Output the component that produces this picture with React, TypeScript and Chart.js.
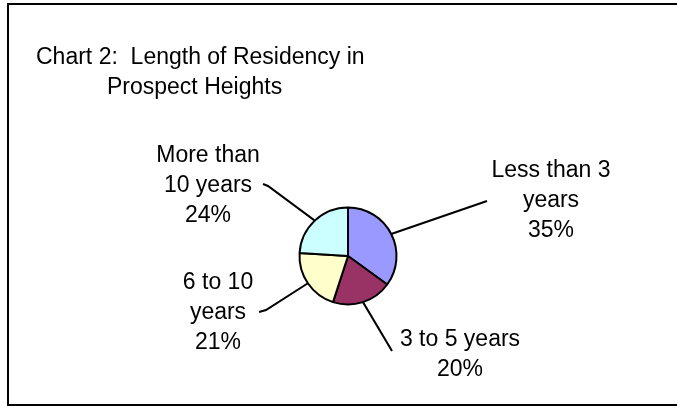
import React, { useEffect, useRef } from "react";
import { Chart, registerables } from "chart.js";

Chart.register(...registerables);

const categories = ["Less than 3 years", "3 to 5 years", "6 to 10 years", "More than 10 years"];
const percents = [35, 20, 21, 24];
const labelLines = [
  ["Less than 3", "years", "35%"],
  ["3 to 5 years", "20%"],
  ["6 to 10", "years", "21%"],
  ["More than", "10 years", "24%"],
];
const colors = ["#9999FF", "#993366", "#FFFFCC", "#CCFFFF"];
const titleLines = ["Chart 2:  Length of Residency in", "Prospect Heights"];

// label layout, relative to pie centre (style only)
const labelLayout = [
  { tx: 203, ty: -85, leader: [[139, -55]] },
  { tx: 112, ty: 84, leader: [[44, 95]] },
  { tx: -130, ty: 27, leader: [[-82, 54], [-89, 56]] },
  { tx: -140, ty: -100, leader: [[-80, -70], [-85, -72]] },
];

const FONT = "23px 'Liberation Sans', Arial, sans-serif";
const LINE_H = 30;

const labelPlugin = {
  id: "pieLabels",
  afterDatasetsDraw(chart: any) {
    const ctx = chart.ctx;
    const meta = chart.getDatasetMeta(0);
    ctx.save();
    // title
    ctx.fillStyle = "#000";
    ctx.font = FONT;
    ctx.textBaseline = "middle";
    ctx.textAlign = "left";
    ctx.fillText(titleLines[0], 36, 58);
    ctx.fillText(titleLines[1], 107, 88);

    meta.data.forEach((arc: any, i: number) => {
      const { x, y, outerRadius, startAngle, endAngle } = arc.getProps(
        ["x", "y", "outerRadius", "startAngle", "endAngle"],
        true
      );
      const mid = (startAngle + endAngle) / 2;
      const ex = x + Math.cos(mid) * outerRadius;
      const ey = y + Math.sin(mid) * outerRadius;
      const lay = labelLayout[i];
      ctx.strokeStyle = "#000";
      ctx.lineWidth = 2;
      ctx.beginPath();
      ctx.moveTo(ex, ey);
      lay.leader.forEach((p) => ctx.lineTo(x + p[0], y + p[1]));
      ctx.stroke();
      ctx.textAlign = "center";
      labelLines[i].forEach((t, k) => {
        ctx.fillText(t, x + lay.tx, y + lay.ty + k * LINE_H);
      });
    });
    ctx.restore();
  },
};

export default function App() {
  const ref = useRef<HTMLCanvasElement | null>(null);
  useEffect(() => {
    if (!ref.current) return;
    const chart = new Chart(ref.current, {
      type: "pie",
      data: {
        labels: categories,
        datasets: [
          {
            data: percents,
            backgroundColor: colors,
            borderColor: "#000",
            borderWidth: 2,
          },
        ],
      },
      options: {
        animation: false,
        responsive: false,
        events: [],
        layout: { padding: { left: 298.5, right: 279.5, top: 206.5, bottom: 100.5 } },
        plugins: {
          legend: { display: false },
          tooltip: { enabled: false },
          title: { display: false },
        },
      },
      plugins: [labelPlugin],
    });
    return () => chart.destroy();
  }, []);
  return (
    <div style={{ position: "fixed", left: 0, top: 0, width: 677, height: 406, background: "#fff", overflow: "hidden" }}>
      <canvas ref={ref} width={677} height={406} style={{ position: "absolute", left: 0, top: 0 }} />
      <div
        style={{
          position: "absolute",
          left: 7,
          top: 3,
          width: 700,
          height: 403,
          border: "2px solid #000",
          boxSizing: "border-box",
          pointerEvents: "none",
        }}
      />
    </div>
  );
}
